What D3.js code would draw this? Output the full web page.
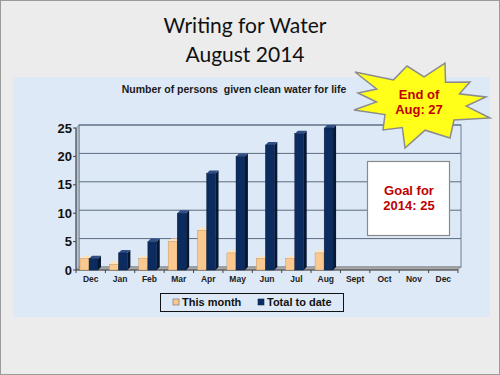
<!DOCTYPE html>
<html lang="en">
<head>
<meta charset="UTF-8">
<title>Writing for Water</title>
<script src="https://d3js.org/d3.v7.min.js"></script>
<style>
  body { margin: 0; background: #ececec; }
  text { font-family: "Liberation Sans", Arial, sans-serif; }
  .title { font-family: Lato, "Open Sans", sans-serif; font-size: 21px; fill: #111; }
  .bold { font-weight: bold; }
</style>
</head>
<body>
<svg id="chart" width="500" height="375"></svg>
<script>
// data
const months = ["Dec", "Jan", "Feb", "Mar", "Apr", "May", "Jun", "Jul", "Aug", "Sept", "Oct", "Nov", "Dec"];
const thisMonth = [2, 1, 2, 5, 7, 3, 2, 2, 3];
const totalToDate = [2, 3, 5, 10, 17, 20, 22, 24, 27];
const yTicks = [0, 5, 10, 15, 20, 25];
const seriesNames = ["This month", "Total to date"];

const svg = d3.select("#chart");
const W = 500, H = 375;

// slide background + frame
svg.append("rect").attr("x", 0.5).attr("y", 0.5).attr("width", W - 1).attr("height", H - 1)
    .attr("fill", "#ececec").attr("stroke", "#9a9a9a");

svg.append("text").attr("class", "title").attr("x", 245).attr("y", 33)
    .attr("text-anchor", "middle").text("Writing for Water");
svg.append("text").attr("class", "title").attr("x", 245).attr("y", 62)
    .attr("text-anchor", "middle").text("August 2014");

// chart area
svg.append("rect").attr("x", 13).attr("y", 77).attr("width", 477).attr("height", 240)
    .attr("fill", "#dde9f6");

svg.append("text").attr("class", "bold").attr("x", 234).attr("y", 93)
    .attr("text-anchor", "middle").style("font-size", "10.5px").style("white-space", "pre")
    .attr("fill", "#1a1a1a")
    .text("Number of persons  given clean water for life");

// scales
const x0 = 76, x1 = 458, depth = 3;
const x = d3.scaleBand().domain(d3.range(months.length)).range([x0, x1]);
const xs = d3.scaleBand().domain([0, 1]).range([4, 22]).paddingInner(0.02);
const y = d3.scaleLinear().domain([0, 25]).range([270, 128]).clamp(true);

const g = svg.append("g");

// back wall + gridlines
g.append("rect").attr("x", x0 + depth).attr("y", y(25) - depth)
    .attr("width", x1 - x0).attr("height", y(0) - y(25))
    .attr("fill", "none").attr("stroke", "#6d7f93").attr("stroke-width", 1);
g.selectAll("line.grid").data(yTicks.filter(d => d > 0)).join("line")
    .attr("class", "grid")
    .attr("x1", x0 + depth).attr("x2", x1 + depth)
    .attr("y1", d => y(d) - depth).attr("y2", d => y(d) - depth)
    .attr("stroke", "#5b6b80").attr("stroke-width", 1);
// left wall
g.append("path")
    .attr("d", `M${x0},${y(0)} L${x0},${y(25)} L${x0 + depth},${y(25) - depth} L${x0 + depth},${y(0) - depth} Z`)
    .attr("fill", "#b9c4d0").attr("stroke", "#6d7f93").attr("stroke-width", 0.7);
// floor
g.append("path")
    .attr("d", `M${x0},${y(0)} L${x1},${y(0)} L${x1 + depth},${y(0) - depth} L${x0 + depth},${y(0) - depth} Z`)
    .attr("fill", "#a9a9a9").attr("stroke", "#7f7f7f").attr("stroke-width", 0.6);

// y axis
g.append("line").attr("x1", x0).attr("x2", x0).attr("y1", y(0)).attr("y2", y(25))
    .attr("stroke", "#444");
g.selectAll("line.ytick").data(yTicks).join("line").attr("class", "ytick")
    .attr("x1", x0 - 3).attr("x2", x0).attr("y1", d => y(d)).attr("y2", d => y(d))
    .attr("stroke", "#444");
g.selectAll("text.ylab").data(yTicks).join("text").attr("class", "ylab bold")
    .attr("x", x0 - 4).attr("y", d => y(d) + 4.5)
    .attr("text-anchor", "end").style("font-size", "13px").attr("fill", "#111")
    .text(d => d);

// x axis
g.append("line").attr("x1", x0).attr("x2", x1).attr("y1", y(0)).attr("y2", y(0))
    .attr("stroke", "#444");
g.selectAll("line.xtick").data(d3.range(months.length + 1)).join("line").attr("class", "xtick")
    .attr("x1", i => x0 + i * x.bandwidth()).attr("x2", i => x0 + i * x.bandwidth())
    .attr("y1", y(0)).attr("y2", y(0) + 3).attr("stroke", "#444");
g.selectAll("text.xlab").data(months).join("text").attr("class", "xlab bold")
    .attr("x", (d, i) => x(i) + x.bandwidth() / 2).attr("y", y(0) + 12)
    .attr("text-anchor", "middle").style("font-size", "8.5px").attr("fill", "#222")
    .text(d => d);

// 3D bars
const colors = [
    { front: "#fbc98f", side: "#d6a062", top: "#fde3c0" },
    { front: "#0c2b5e", side: "#051733", top: "#2f4f86" }
];
const bars = [];
[thisMonth, totalToDate].forEach((vals, s) => {
    vals.forEach((v, i) => bars.push({ s, i, v }));
});
const bar = g.selectAll("g.bar").data(bars).join("g").attr("class", "bar");
bar.each(function (d) {
    const sel = d3.select(this);
    const bx = x(d.i) + xs(d.s), bw = xs.bandwidth(), by = y(d.v), b0 = y(0);
    const c = colors[d.s];
    sel.append("path")
        .attr("d", `M${bx + bw},${b0} L${bx + bw + depth},${b0 - depth} L${bx + bw + depth},${by - depth} L${bx + bw},${by} Z`)
        .attr("fill", c.side);
    sel.append("path")
        .attr("d", `M${bx},${by} L${bx + depth},${by - depth} L${bx + bw + depth},${by - depth} L${bx + bw},${by} Z`)
        .attr("fill", c.top);
    sel.append("rect").attr("x", bx).attr("y", by).attr("width", bw).attr("height", b0 - by)
        .attr("fill", c.front).attr("stroke", d.s === 0 ? "#b88a55" : "#06183a").attr("stroke-width", 0.4);
});

// legend
const leg = svg.append("g");
leg.append("rect").attr("x", 160.5).attr("y", 293.5).attr("width", 183).attr("height", 18)
    .attr("fill", "none").attr("stroke", "#111");
const legX = [173, 258];
seriesNames.forEach((name, s) => {
    leg.append("rect").attr("x", legX[s]).attr("y", 299).attr("width", 6).attr("height", 6)
        .attr("fill", colors[s].front).attr("stroke", s === 0 ? "#666" : "#0c2b5e").attr("stroke-width", 0.6);
    leg.append("text").attr("class", "bold").attr("x", legX[s] + 9).attr("y", 306)
        .style("font-size", "11px").attr("fill", "#111").text(name);
});

// goal box
svg.append("rect").attr("x", 367.5).attr("y", 161.5).attr("width", 82).attr("height", 74)
    .attr("fill", "#ffffff").attr("stroke", "#8a8a8a").attr("stroke-width", 1.2);
["Goal for", "2014: 25"].forEach((t, k) => {
    svg.append("text").attr("class", "bold").attr("x", 409).attr("y", 195 + k * 15)
        .attr("text-anchor", "middle").style("font-size", "13px").attr("fill", "#c00000").text(t);
});

// starburst (outer tips as offsets from its centre, valleys pulled in between)
const cx = 420, cy = 103;
const tips = [[-65, -31], [-13, -37], [25, -40], [50, -21], [66, -6], [70, 15],
              [30, 35], [-15, 45], [-37, 27], [-66, 7], [-62, -10]];
const pts = [];
tips.forEach((p, k) => {
    const q = tips[(k + 1) % tips.length];
    pts.push([cx + p[0], cy + p[1]]);
    pts.push([cx + (p[0] + q[0]) * 0.34, cy + (p[1] + q[1]) * 0.34]);
});
svg.append("path").attr("d", d3.line()(pts) + "Z")
    .attr("fill", "#ffff1a").attr("stroke", "#8c8c8c").attr("stroke-width", 1.5)
    .attr("stroke-linejoin", "miter");
["End of", "Aug: 27"].forEach((t, k) => {
    svg.append("text").attr("class", "bold").attr("x", 419).attr("y", 99 + k * 15)
        .attr("text-anchor", "middle").style("font-size", "13px").attr("fill", "#c00000").text(t);
});
</script>
</body>
</html>
